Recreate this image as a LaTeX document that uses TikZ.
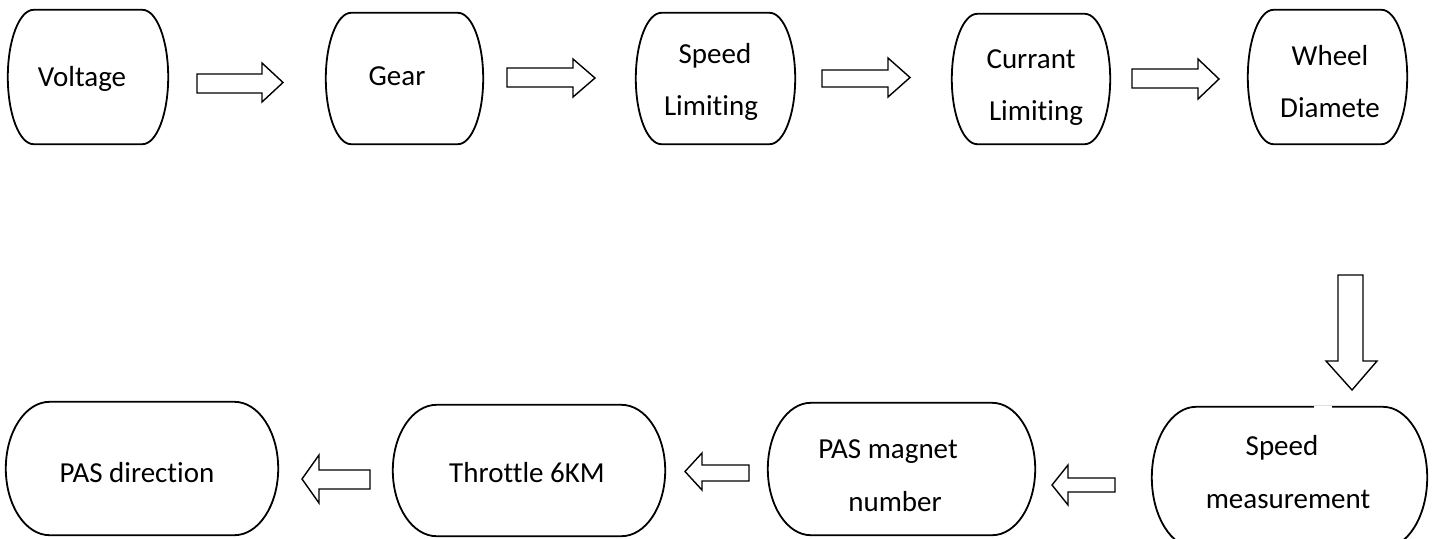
\documentclass[tikz,border=0pt]{standalone}
\usepackage{fontspec}
\setmainfont{Carlito}[Ligatures=NoCommon]
\usetikzlibrary{calc}
\tikzset{
 boxline/.style={draw=black, line width=1.8pt},
 blockarrow/.style={draw=black, line width=1.4pt, fill=white, line join=miter},
 lbl/.style={anchor=base, inner sep=0pt, font=\fontsize{29}{34}\selectfont},
 holder/.style={inner sep=0pt, draw=none},
}
\newcommand\termbox[1]{%
 \path let \p1=(#1.north west), \p2=(#1.south east),
   \n1={0.161*(\x2-\x1)}, \n2={(\y1-\y2)/2} in
   [boxline] (\x1+\n1,\y1) -- (\x2-\n1,\y1)
   arc[start angle=90,end angle=-90,x radius=\n1,y radius=\n2]
   -- (\x1+\n1,\y2)
   arc[start angle=270,end angle=90,x radius=\n1,y radius=\n2] -- cycle;}
\begin{document}
\begin{tikzpicture}[x=1pt,y=-1pt]
\useasboundingbox (0,0) rectangle (1434,538);
% boxes
\node[holder, minimum width=160pt, minimum height=134pt] (b1) at (88,77) {};
\node[holder, minimum width=157pt, minimum height=131pt] (b2) at (404.5,78.5) {};
\node[holder, minimum width=159pt, minimum height=131pt] (b3) at (715.5,78.5) {};
\node[holder, minimum width=158pt, minimum height=130pt] (b4) at (1031,79) {};
\node[holder, minimum width=159pt, minimum height=134pt] (b5) at (1327.5,77) {};
\node[holder, minimum width=275pt, minimum height=141pt] (b6) at (1289.5,477.5) {};
\node[holder, minimum width=267pt, minimum height=132pt] (b7) at (901.5,469) {};
\node[holder, minimum width=272pt, minimum height=131pt] (b8) at (529,470.5) {};
\node[holder, minimum width=272pt, minimum height=133pt] (b9) at (142,468.5) {};
\termbox{b1}\termbox{b2}\termbox{b3}\termbox{b4}\termbox{b5}
\termbox{b6}\termbox{b7}\termbox{b8}\termbox{b9}
\draw[white, line width=3pt] (1314,407) -- (1332,407);
% labels
\node[lbl] (t1) at (82,86) {Voltage};
\node[lbl] (t2) at (397,85) {Gear};
\node[lbl] (t3a) at (715,63) {Speed};
\node[lbl] (t3b) at (711,115) {Limiting};
\node[lbl] (t4a) at (1031,68) {Currant};
\node[lbl] (t4b) at (1036,120) {Limiting};
\node[lbl] (t5a) at (1330,65) {Wheel};
\node[lbl] (t5b) at (1330,117) {Diamete};
\node[lbl] (t6a) at (1282,455) {Speed};
\node[lbl] (t6b) at (1288,508) {measurement};
\node[lbl] (t7a) at (888,458) {PAS magnet};
\node[lbl] (t7b) at (895,511) {number};
\node[lbl] (t8) at (527,482) {Throttle 6KM};
\node[lbl] (t9) at (137,482) {PAS direction};
% block arrows
\draw[blockarrow] (197,74)--(262,74)--(262,63)--(283,82.5)--(262,102)--(262,93)--(197,93)--cycle;
\draw[blockarrow] (507,68)--(573,68)--(573,59)--(595,78)--(573,97)--(573,87)--(507,87)--cycle;
\draw[blockarrow] (822,70)--(888,70)--(888,58)--(910,77.5)--(888,97)--(888,87)--(822,87)--cycle;
\draw[blockarrow] (1132,69)--(1198,69)--(1198,59)--(1219,79)--(1198,99)--(1198,88)--(1132,88)--cycle;
\draw[blockarrow] (1338,275)--(1363,275)--(1363,361)--(1377,361)--(1352,390)--(1326,361)--(1338,361)--cycle;
\draw[blockarrow] (1115,478)--(1068,478)--(1068,465)--(1052,485)--(1068,505)--(1068,492)--(1115,492)--cycle;
\draw[blockarrow] (749,465)--(702,465)--(702,453)--(685,471.5)--(702,490)--(702,481)--(749,481)--cycle;
\draw[blockarrow] (370,470)--(319,470)--(319,455)--(302,479)--(319,503)--(319,489)--(370,489)--cycle;
\end{tikzpicture}
\end{document}
